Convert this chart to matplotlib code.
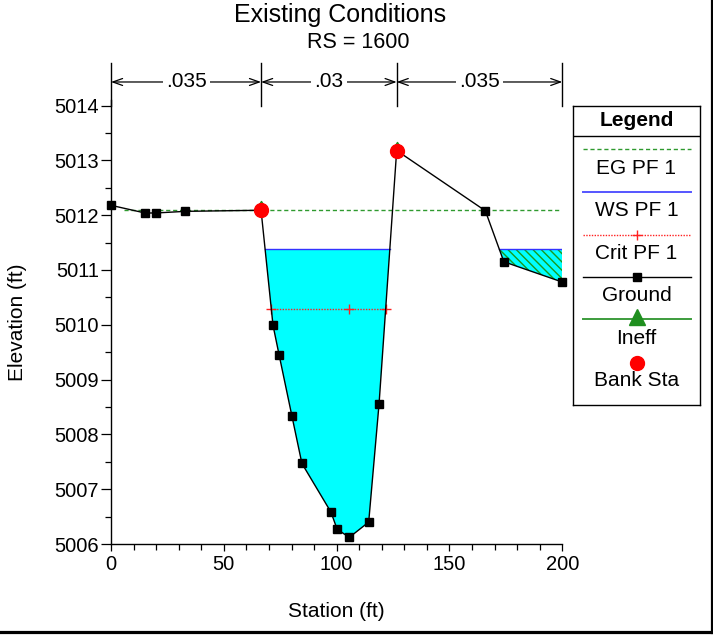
import numpy as np
import matplotlib
matplotlib.use("Agg")
import matplotlib.pyplot as plt
from matplotlib.lines import Line2D
from matplotlib.ticker import MultipleLocator
from matplotlib.markers import MarkerStyle

plt.rcParams['font.family'] = ['Liberation Sans', 'DejaVu Sans']

# Cross-section geometry, RS 1600
station = np.array([0, 15.1, 19.9, 32.9, 66.5, 71.8, 74.5, 80.2, 84.6, 97.5,
                    100.2, 105.6, 114.2, 118.8, 126.6, 165.9, 174.1, 200])
ground = np.array([5012.18, 5012.04, 5012.04, 5012.07, 5012.09, 5009.99, 5009.45,
                   5008.33, 5007.47, 5006.58, 5006.27, 5006.12, 5006.40, 5008.56,
                   5013.18, 5012.08, 5011.15, 5010.78])
bank_sta = [66.5, 126.6]
mannings_n = ['.035', '.03', '.035']

eg_elev = 5012.10
ws_elev = 5011.38
crit_elev = 5010.29


def crossings(x, y, level):
    # stations where the ground profile crosses a given elevation
    out = []
    for i in range(len(x) - 1):
        a, b = y[i] - level, y[i + 1] - level
        if a * b < 0:
            out.append(x[i] + a / (a - b) * (x[i + 1] - x[i]))
    return out


fig = plt.figure(figsize=(7.13, 6.41), dpi=100)
ax = fig.add_axes([111 / 713, 97 / 641, 451.3 / 713, 443.9 / 641])

lo, hi = bank_sta

# water in the main channel
main = (ground < ws_elev) & (station > lo) & (station < hi)
ax.fill_between(station, ground, ws_elev, where=main, interpolate=True,
                facecolor='#00ffff', edgecolor='none', zorder=1)
# ineffective water in the right overbank
over = (ground < ws_elev) & (station > hi)
ax.fill_between(station, ground, ws_elev, where=over, interpolate=True,
                facecolor='#00ffff', edgecolor='none', zorder=1)
ax.fill_between(station, ground, ws_elev, where=over, interpolate=True,
                facecolor='none', edgecolor='#1a9a1a', hatch='\\\\\\\\',
                linewidth=0, zorder=1.5)

# water surface
ws_x = crossings(station, ground, ws_elev) + [station[-1]]
for x0, x1 in zip(ws_x[0::2], ws_x[1::2]):
    ax.plot([x0, x1], [ws_elev, ws_elev], color='#3333ff', lw=1.0, zorder=2)

# energy grade
eg_x = crossings(station, ground, eg_elev)
ax.plot([eg_x[0] - 3, station[-1]], [eg_elev, eg_elev], color='#2f9a2f',
        lw=1.0, ls=(0, (3, 2)), zorder=2)

# critical depth
cx = crossings(station[(station >= lo) & (station <= hi)],
               ground[(station >= lo) & (station <= hi)], crit_elev)
thalweg = station[np.argmin(ground)]
ax.plot([cx[0], cx[-1]], [crit_elev, crit_elev], color='#ff2020', lw=1.0,
        ls=(0, (1, 1)), zorder=2)
ax.plot([cx[0], thalweg, cx[-1]], [crit_elev] * 3, ls='none', marker='+',
        color='#ff2020', ms=7, mew=1.0, zorder=2)

# ground profile
ax.plot(station, ground, color='black', lw=1.0, marker='s', ms=6.3,
        mfc='black', mec='black', zorder=3, clip_on=False)

# ineffective markers and bank stations
bank_el = np.interp(bank_sta, station, ground)
tri = MarkerStyle([(-1, 0), (1, 0), (0, 1.6), (-1, 0)])
ax.plot(bank_sta, bank_el, ls='none', marker=tri, ms=13, color='#1f8f1f', zorder=4)
ax.plot(bank_sta, bank_el, ls='none', marker='o', ms=10, color='red',
        mec='red', zorder=5)

ax.set_xlim(0, 200)
ax.set_ylim(5006, 5014.1)
ax.xaxis.set_major_locator(MultipleLocator(50))
ax.xaxis.set_minor_locator(MultipleLocator(10))
ax.yaxis.set_major_locator(MultipleLocator(1))
ax.yaxis.set_minor_locator(MultipleLocator(0.5))
ax.tick_params(axis='x', which='major', length=5.2, width=0.9, labelsize=14.5, pad=3)
ax.tick_params(axis='x', which='minor', length=4.3, width=0.9)
ax.tick_params(axis='y', which='major', length=7.5, width=0.9, labelsize=14.5, pad=1)
ax.tick_params(axis='y', which='minor', length=4.3, width=0.9)
for side in ['top', 'right']:
    ax.spines[side].set_visible(False)
for side in ['left', 'bottom']:
    ax.spines[side].set_linewidth(1.0)

ax.set_xlabel('Station (ft)', fontsize=15, labelpad=20)
ax.set_ylabel('Elevation (ft)', fontsize=15, labelpad=20)

# Manning's n bar above the plot
tr = ax.get_xaxis_transform()
edges = [station[0], lo, hi, station[-1]]
for xe in edges:
    ax.plot([xe, xe], [0.987, 1.0836], transform=tr, color='black', lw=1.0,
            clip_on=False)
for i, lab in enumerate(mannings_n):
    ax.annotate('', xy=(edges[i], 1.0408), xytext=(edges[i + 1], 1.0408),
                xycoords=tr, textcoords=tr, annotation_clip=False,
                arrowprops=dict(arrowstyle='<->,head_length=0.7,head_width=0.25',
                                color='black', lw=0.9, shrinkA=0, shrinkB=0))
    ax.text((edges[i] + edges[i + 1]) / 2, 1.0408, lab, transform=tr,
            ha='center', va='center', fontsize=15, clip_on=False,
            bbox=dict(boxstyle='square,pad=0.15', fc='white', ec='none'))

fig.text(340 / 713, 1 - 15 / 641, 'Existing Conditions', ha='center',
         va='center', fontsize=18)
fig.text(358 / 713, 1 - 42 / 641, 'RS = 1600', ha='center', va='center',
         fontsize=15.5)

# legend panel
lax = fig.add_axes([573 / 713, (641 - 405) / 641, 127 / 713, 299 / 641])
lax.set_xlim(0, 127)
lax.set_ylim(299, 0)
lax.set_xticks([])
lax.set_yticks([])
for s in lax.spines.values():
    s.set_linewidth(1.0)
lax.plot([0, 127], [30, 30], color='black', lw=1.0)
lax.text(63.5, 14, 'Legend', ha='center', va='center', fontsize=15,
         fontweight='bold')
lx = [10, 117.7]
lax.plot(lx, [43, 43], color='#2f9a2f', lw=1.0, ls=(0, (3, 2)))
lax.plot(lx, [86, 86], color='#5555ff', lw=1.4)
lax.plot(lx, [128.5, 128.5], color='#ff2020', lw=1.0, ls=(0, (1, 1)))
lax.plot([64], [128.5], marker='+', color='#ff2020', ms=7, mew=1.0)
lax.plot(lx, [171, 171], color='black', lw=1.0)
lax.plot([64], [171], marker='s', color='black', ms=6.3)
lax.plot(lx, [213, 213], color='#3c9c3c', lw=1.4)
lax.plot([64], [211], marker='^', color='#1f8f1f', ms=11)
lax.plot([64], [256.5], marker='o', color='red', ms=10)
names = ['EG PF 1', 'WS PF 1', 'Crit PF 1', 'Ground', 'Ineff', 'Bank Sta']
for k, name in enumerate(names):
    lax.text(63.5, 62 + 42.6 * k, name, ha='center', va='center', fontsize=15)

# window border on the right and bottom
fig.add_artist(Line2D([0, 711.5 / 713], [1 - 631.5 / 641] * 2, color='black',
                      lw=2.3))
fig.add_artist(Line2D([711.5 / 713] * 2, [1 - 631.5 / 641, 1], color='black',
                      lw=2.3))

fig.savefig('out.png', dpi=100)
